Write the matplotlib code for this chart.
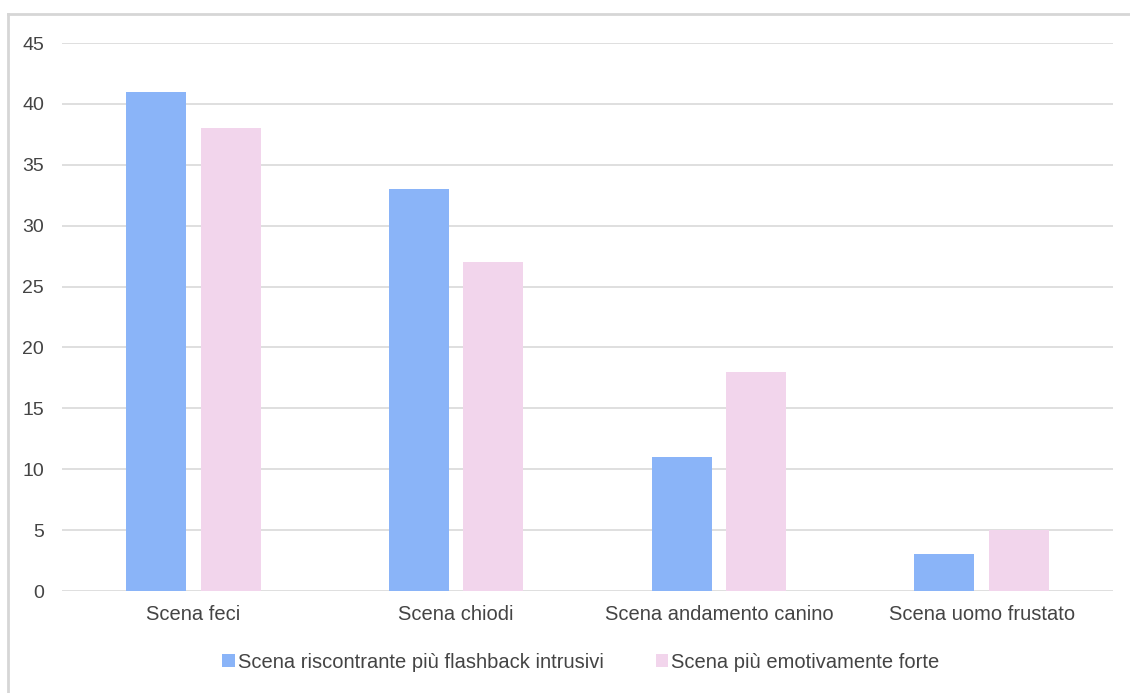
import matplotlib.pyplot as plt
import numpy as np
from matplotlib.lines import Line2D
from matplotlib.patches import Patch

categories = ['Scena feci', 'Scena chiodi', 'Scena andamento canino', 'Scena uomo frustato']
flashback = [41, 33, 11, 3]
emotivo = [38, 27, 18, 5]
series_names = ['Scena riscontrante più flashback intrusivi', 'Scena più emotivamente forte']
yticks = [0, 5, 10, 15, 20, 25, 30, 35, 40, 45]

blue = '#8ab4f8'
pink = '#f2d5ec'
text_col = '#444444'
grid_col = '#d9d9d9'

plt.rcParams['font.family'] = ['Liberation Sans', 'DejaVu Sans']

fig = plt.figure(figsize=(11.3, 6.93), dpi=100)
ax = fig.add_axes([62 / 1130, 1 - 591 / 693, (1113 - 62) / 1130, (591 - 43) / 693])

x = np.arange(len(categories))
w = 0.228
ax.bar(x - 0.142, flashback, width=w, color=blue, zorder=3)
ax.bar(x + 0.142, emotivo, width=w, color=pink, zorder=3)

ax.set_xlim(-0.5, len(categories) - 0.5)
ax.set_ylim(0, 45)
ax.set_yticks(yticks)
ax.set_xticks(x)
ax.set_xticklabels(categories, fontsize=14.5)
ax.tick_params(axis='both', length=0, colors=text_col)
ax.tick_params(axis='y', pad=13, labelsize=14)
ax.tick_params(axis='x', pad=10)
ax.yaxis.grid(True, color=grid_col, linewidth=1.2, zorder=0)
for s in ax.spines.values():
    s.set_visible(False)

handles = [Patch(facecolor=blue), Patch(facecolor=pink)]
fig.legend(handles, series_names, loc='center', bbox_to_anchor=(0.514, 1 - 662 / 693),
           ncol=2, frameon=False, fontsize=14.5, labelcolor=text_col,
           handlelength=0.6, handleheight=0.6, handletextpad=0.15, columnspacing=2.6)

# outer frame (left and top edge visible)
fig.add_artist(Line2D([7.5 / 1130, 7.5 / 1130], [0, 1 - 14 / 693], color='#d6d6d6', lw=2))
fig.add_artist(Line2D([7.5 / 1130, 1], [1 - 14 / 693, 1 - 14 / 693], color='#d6d6d6', lw=2))

fig.savefig('out.png', dpi=100)
